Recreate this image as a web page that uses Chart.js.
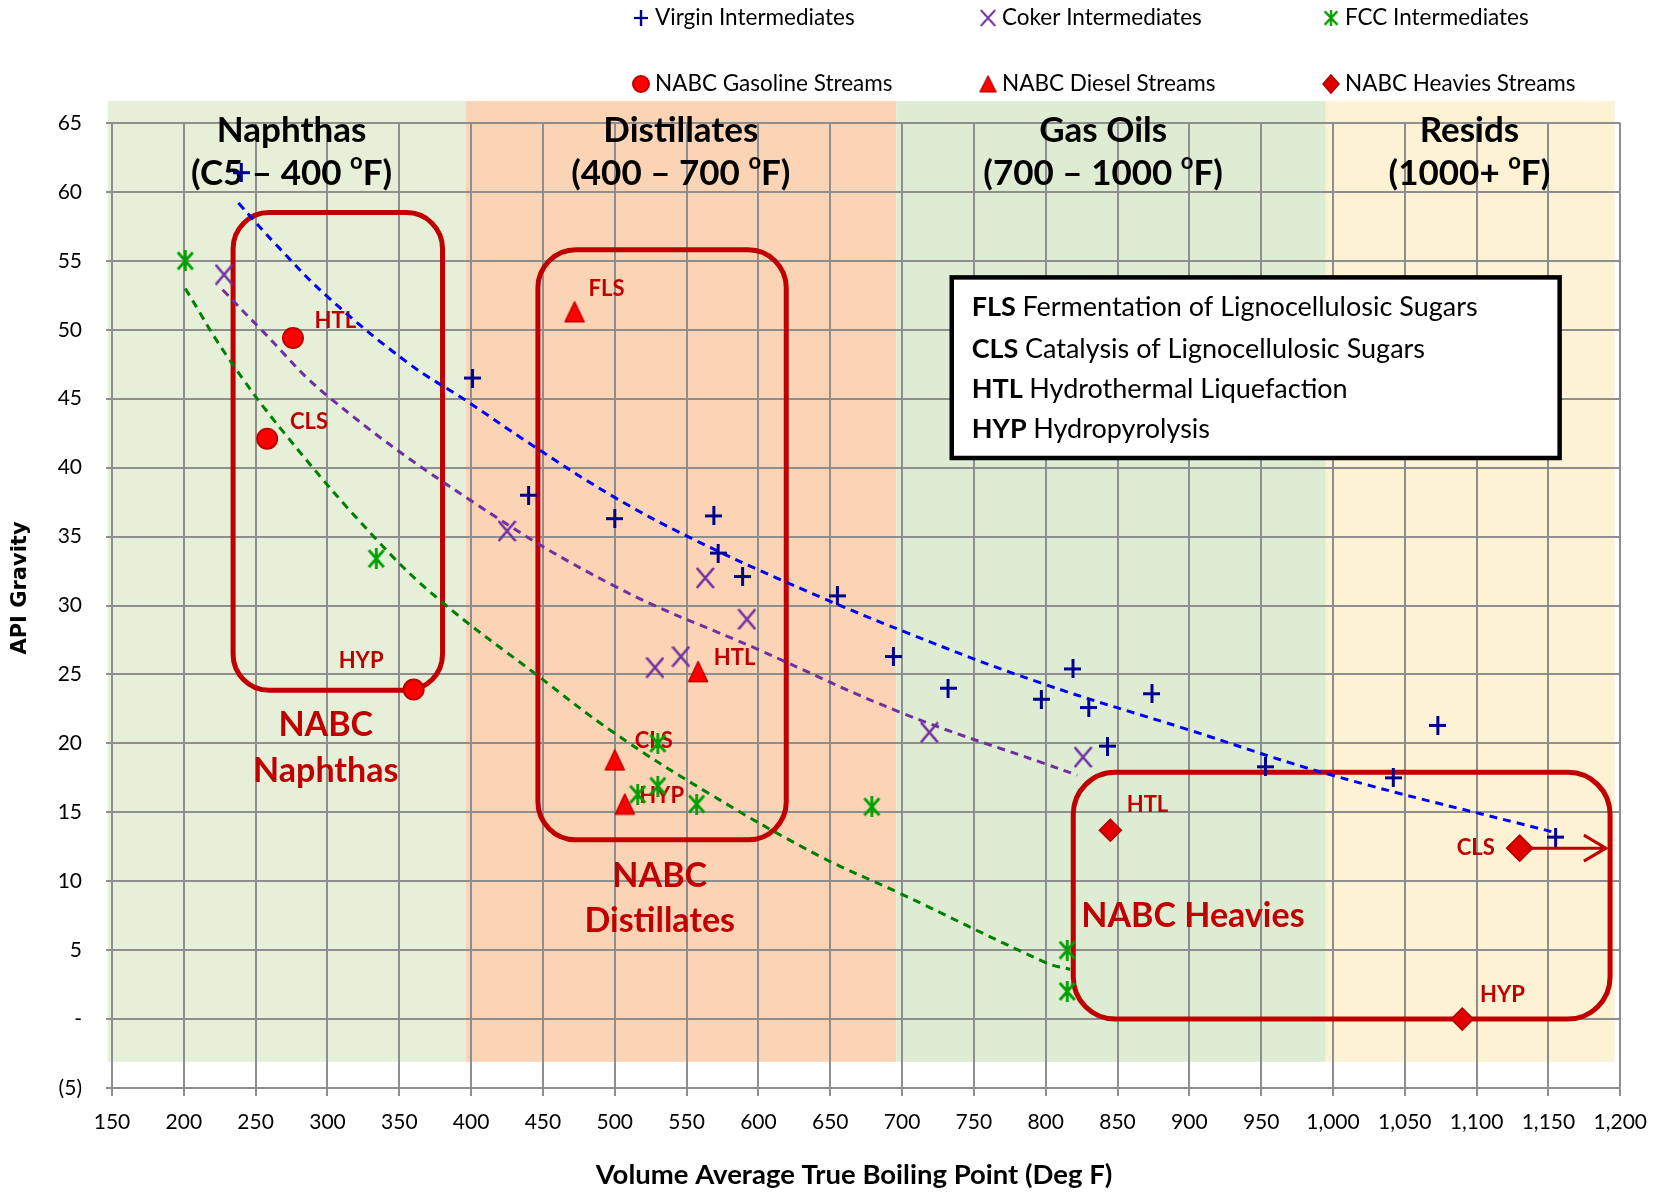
<!DOCTYPE html>
<html><head><meta charset="utf-8">
<script src="https://cdn.jsdelivr.net/npm/chart.js@4/dist/chart.umd.min.js"></script>
<style>html,body{margin:0;padding:0;background:#fff;}#wrap{width:1661px;height:1196px;}</style>
</head><body><div id="wrap"><canvas id="c" width="1661" height="1196"></canvas></div>
<script>
// ---------------- DATA ----------------
const virginTBP = [240, 401, 440, 500, 569, 572, 589, 655, 694, 732, 797, 819, 830, 874, 843, 953, 1042, 1073, 1155];
const virginAPI = [61.4, 46.5, 38.0, 36.3, 36.5, 33.8, 32.1, 30.7, 26.3, 24.0, 23.2, 25.4, 22.6, 23.6, 19.8, 18.3, 17.5, 21.3, 13.2];
const cokerTBP = [228, 425, 563, 592, 528, 546, 719, 826];
const cokerAPI = [54.0, 35.4, 32.0, 29.0, 25.5, 26.3, 20.8, 19.0];
const fccTBP = [201, 334, 530, 530, 516, 557, 679, 815, 815];
const fccAPI = [55.0, 33.4, 20.0, 16.9, 16.3, 15.6, 15.4, 5.0, 2.0];
const gasolineTBP = [276, 258, 360];
const gasolineAPI = [49.4, 42.1, 23.9];
const gasolineTags = ['HTL', 'CLS', 'HYP'];
const dieselTBP = [472, 558, 500, 507];
const dieselAPI = [51.3, 25.2, 18.8, 15.6];
const dieselTags = ['FLS', 'HTL', 'CLS', 'HYP'];
const heaviesTBP = [845, 1130, 1090];
const heaviesAPI = [13.7, 12.4, 0];
const heaviesTags = ['HTL', 'CLS', 'HYP'];
// trendlines
const virginTrendX = [238, 264, 300, 356, 396, 440, 499, 551, 617, 704, 796, 899, 999, 1152];
const virginTrendY = [59.2, 56.2, 52.4, 47.6, 44.9, 41.8, 37.9, 35.0, 31.8, 28.0, 24.4, 21.0, 17.7, 13.6];
const cokerTrendX = [227, 253, 300, 400, 500, 600, 700, 800, 822];
const cokerTrendY = [52.9, 50.1, 45.2, 37.6, 31.4, 26.8, 22.2, 18.5, 17.7];
const fccTrendX = [201, 230, 270, 334, 378, 444, 499, 565, 643, 697, 800, 817];
const fccTrendY = [53.0, 48.1, 42.5, 34.8, 30.4, 25.1, 20.8, 16.4, 11.8, 9.2, 4.1, 3.6];
// categories
const seriesNames = ['Virgin Intermediates', 'Coker Intermediates', 'FCC Intermediates',
  'NABC Gasoline Streams', 'NABC Diesel Streams', 'NABC Heavies Streams'];
const regionNames = ['Naphthas', 'Distillates', 'Gas Oils', 'Resids'];
const regionRanges = ['(C5 – 400 ', '(400 – 700 ', '(700 – 1000 ', '(1000+ '];
const regionFrom = [147, 396.5, 696, 995];
const regionTo = [396.5, 696, 995, 1196];
const regionTitleX = [275, 546, 840, 1095];
const abbrevs = ['FLS', 'CLS', 'HTL', 'HYP'];
const abbrevText = ['Fermentation of Lignocellulosic Sugars', 'Catalysis of Lignocellulosic Sugars',
  'Hydrothermal Liquefaction', 'Hydropyrolysis'];
const xTitle = 'Volume Average True Boiling Point (Deg F)';
const yTitle = 'API Gravity';

// ---------------- STYLE ----------------
const FONT = 'Lato, "Open Sans", sans-serif';
const RED = '#C00000';
const bandColors = ['#E6F0D9', '#FBD4B6', '#DEECD3', '#FEF2D5'];
const zip = (xs, ys) => xs.map((x, i) => ({x: x, y: ys[i]}));

function makeImg(w, h, draw) {
  const c = document.createElement('canvas'); c.width = w; c.height = h;
  draw(c.getContext('2d'), w, h); return c;
}
const plusImg = makeImg(17, 19, (g, w, h) => {
  g.strokeStyle = '#00008E'; g.lineWidth = 3; g.beginPath();
  g.moveTo(0, h / 2); g.lineTo(w, h / 2); g.moveTo(w / 2, 0); g.lineTo(w / 2, h); g.stroke();
});
const xImg = makeImg(19, 22, (g, w, h) => {
  g.strokeStyle = '#7030A0'; g.lineWidth = 2.6; g.beginPath();
  g.moveTo(1, 1); g.lineTo(w - 1, h - 1); g.moveTo(w - 1, 1); g.lineTo(1, h - 1); g.stroke();
});
const starImg = makeImg(19, 21, (g, w, h) => {
  g.strokeStyle = '#00A000'; g.lineWidth = 2.8; g.beginPath();
  g.moveTo(2, 2); g.lineTo(w - 2, h - 2); g.moveTo(w - 2, 2); g.lineTo(2, h - 2);
  g.moveTo(w / 2, 0); g.lineTo(w / 2, h); g.stroke();
});
const triImg = makeImg(22, 23, (g, w, h) => {
  g.fillStyle = '#FF0000'; g.strokeStyle = RED; g.lineWidth = 1.6; g.lineJoin = 'round';
  g.beginPath(); g.moveTo(w / 2, 1.5); g.lineTo(w - 1.5, h - 1.5); g.lineTo(1.5, h - 1.5); g.closePath();
  g.fill(); g.stroke();
});

// ---------------- PLUGIN: bands, titles, boxes, labels, legend ----------------
function richText(ctx, cx, cy, size, pre, post) {
  const big = 'bold ' + size + 'px ' + FONT, small = 'bold ' + Math.round(size * 0.62) + 'px ' + FONT;
  ctx.font = big; const w1 = ctx.measureText(pre).width, w3 = ctx.measureText(post).width;
  ctx.font = small; const w2 = ctx.measureText('o').width;
  let x = cx - (w1 + w2 + w3) / 2;
  ctx.textAlign = 'left'; ctx.textBaseline = 'middle';
  ctx.font = big; ctx.fillText(pre, x, cy); x += w1;
  ctx.font = small; ctx.fillText('o', x, cy - size * 0.32); x += w2;
  ctx.font = big; ctx.fillText(post, x, cy);
}
function roundBox(ctx, l, t, r, b, rad) {
  ctx.beginPath();
  ctx.moveTo(l + rad, t); ctx.lineTo(r - rad, t); ctx.arcTo(r, t, r, t + rad, rad);
  ctx.lineTo(r, b - rad); ctx.arcTo(r, b, r - rad, b, rad);
  ctx.lineTo(l + rad, b); ctx.arcTo(l, b, l, b - rad, rad);
  ctx.lineTo(l, t + rad); ctx.arcTo(l, t, l + rad, t, rad); ctx.closePath();
}
const deco = {
  id: 'deco',
  beforeDraw(chart) {
    const ctx = chart.ctx, sx = chart.scales.x, sy = chart.scales.y;
    ctx.save();
    const top = sy.getPixelForValue(66.6), bot = sy.getPixelForValue(-3.1);
    regionFrom.forEach((f, i) => {
      const l = sx.getPixelForValue(f), r = sx.getPixelForValue(regionTo[i]);
      ctx.fillStyle = bandColors[i]; ctx.fillRect(l, top, r - l, bot - top);
    });
    ctx.restore();
  },
  beforeDatasetsDraw(chart) {
    const ctx = chart.ctx, sx = chart.scales.x, sy = chart.scales.y;
    const X = v => sx.getPixelForValue(v), Y = v => sy.getPixelForValue(v);
    ctx.save();
    // region titles
    ctx.fillStyle = '#000';
    regionNames.forEach((n, i) => {
      ctx.font = 'bold 35px ' + FONT; ctx.textAlign = 'center'; ctx.textBaseline = 'middle';
      ctx.fillText(n, X(regionTitleX[i]), Y(64.45));
      richText(ctx, X(regionTitleX[i]), Y(61.35), 35, regionRanges[i], 'F)');
    });
    // abbreviation box
    const bl = X(734.6), br = X(1157.8), bt = Y(53.8), bb = Y(40.7);
    ctx.fillStyle = '#fff'; ctx.fillRect(bl, bt, br - bl, bb - bt);
    ctx.lineWidth = 4.5; ctx.strokeStyle = '#000'; ctx.strokeRect(bl, bt, br - bl, bb - bt);
    const lineY = [51.6, 48.6, 45.65, 42.75];
    abbrevs.forEach((a, i) => {
      ctx.textAlign = 'left'; ctx.textBaseline = 'middle'; ctx.fillStyle = '#000';
      ctx.font = 'bold 27px ' + FONT; ctx.fillText(a, X(748.5), Y(lineY[i]));
      const w = ctx.measureText(a + ' ').width;
      ctx.font = '27px ' + FONT; ctx.fillText(abbrevText[i], X(748.5) + w, Y(lineY[i]));
    });
    // NABC boxes
    ctx.strokeStyle = RED; ctx.lineWidth = 5;
    roundBox(ctx, X(234.3), Y(58.5), X(380.1), Y(23.85), 36); ctx.stroke();
    roundBox(ctx, X(446.5), Y(55.8), X(619.4), Y(13.0), 38); ctx.stroke();
    roundBox(ctx, X(819.2), Y(17.9), X(1192.9), Y(0), 42); ctx.stroke();
    // big labels
    ctx.fillStyle = RED; ctx.font = 'bold 34px ' + FONT; ctx.textAlign = 'center'; ctx.textBaseline = 'middle';
    ctx.fillText('NABC', X(298.8), Y(21.3)); ctx.fillText('Naphthas', X(298.8), Y(18.0));
    ctx.fillText('NABC', X(531.3), Y(10.4)); ctx.fillText('Distillates', X(531.3), Y(7.1));
    ctx.fillText('NABC Heavies', X(902.5), Y(7.5));
    // small tag labels
    ctx.font = 'bold 22px ' + FONT; ctx.textAlign = 'left';
    const tagPos = [
      [gasolineTags, [[291, 50.66], [273.9, 43.3], [307.8, 25.96]]],
      [dieselTags, [[481.8, 53.0], [569.0, 26.2], [513.9, 20.16], [517.0, 16.2]]],
      [heaviesTags, [[856.4, 15.57], [1086.2, 12.39], [1102.4, 1.77]]]
    ];
    tagPos.forEach(([tags, pos]) => tags.forEach((t, i) => ctx.fillText(t, X(pos[i][0]), Y(pos[i][1]))));
    ctx.restore();
  },
  afterDraw(chart) {
    const ctx = chart.ctx, sx = chart.scales.x, sy = chart.scales.y;
    const X = v => sx.getPixelForValue(v), Y = v => sy.getPixelForValue(v);
    ctx.save();
    // arrow from CLS heavies
    const ay = Y(heaviesAPI[1]), ax0 = X(heaviesTBP[1]) + 10, ax1 = X(1190);
    ctx.strokeStyle = RED; ctx.lineWidth = 3; ctx.beginPath();
    ctx.moveTo(ax0, ay); ctx.lineTo(ax1, ay);
    ctx.moveTo(ax1 - 22, ay - 13); ctx.lineTo(ax1, ay); ctx.lineTo(ax1 - 22, ay + 13); ctx.stroke();
    // legend
    const cols = [641, 988, 1331], rows = [18, 84];
    const icons = [plusImg, xImg, starImg, 'circle', triImg, 'diamond'];
    seriesNames.forEach((n, i) => {
      const cx = cols[i % 3], cy = rows[Math.floor(i / 3)];
      const ic = icons[i];
      if (ic === 'circle') {
        ctx.fillStyle = '#FF0000'; ctx.strokeStyle = RED; ctx.lineWidth = 2;
        ctx.beginPath(); ctx.arc(cx, cy, 8, 0, Math.PI * 2); ctx.fill(); ctx.stroke();
      } else if (ic === 'diamond') {
        ctx.fillStyle = '#E00000'; ctx.strokeStyle = '#B00000'; ctx.lineWidth = 1.5;
        ctx.beginPath(); ctx.moveTo(cx, cy - 9); ctx.lineTo(cx + 8, cy); ctx.lineTo(cx, cy + 9); ctx.lineTo(cx - 8, cy); ctx.closePath();
        ctx.fill(); ctx.stroke();
      } else {
        const w = ic.width * 0.85, h = ic.height * 0.8;
        ctx.drawImage(ic, cx - w / 2, cy - h / 2, w, h);
      }
      ctx.fillStyle = '#000'; ctx.font = '22.5px ' + FONT; ctx.textAlign = 'left'; ctx.textBaseline = 'middle';
      ctx.fillText(n, cx + 14, cy);
    });
    // axis titles
    ctx.font = 'bold 27.5px ' + FONT; ctx.textAlign = 'center'; ctx.textBaseline = 'middle';
    ctx.fillText(xTitle, 854, 1175);
    ctx.save(); ctx.translate(21, 588); ctx.rotate(-Math.PI / 2);
    ctx.font = 'bold 21px "DejaVu Sans", sans-serif'; ctx.fillText(yTitle, 0, 0); ctx.restore();
    ctx.restore();
  }
};

// ---------------- CHART ----------------
const gridColor = '#8E8E8E';
new Chart(document.getElementById('c'), {
  type: 'scatter',
  data: {
    datasets: [
      {label: seriesNames[0], data: zip(virginTBP, virginAPI), pointStyle: plusImg, order: 1},
      {label: seriesNames[1], data: zip(cokerTBP, cokerAPI), pointStyle: xImg, order: 1},
      {label: seriesNames[2], data: zip(fccTBP, fccAPI), pointStyle: starImg, order: 1},
      {label: seriesNames[3], data: zip(gasolineTBP, gasolineAPI), pointStyle: 'circle', pointRadius: 10,
        backgroundColor: '#FF0000', borderColor: RED, borderWidth: 2, order: 0},
      {label: seriesNames[4], data: zip(dieselTBP, dieselAPI), pointStyle: triImg, order: 0},
      {label: seriesNames[5], data: zip(heaviesTBP, heaviesAPI), pointStyle: 'rectRot', pointRadius: [11, 13, 11],
        backgroundColor: '#E00000', borderColor: '#B00000', borderWidth: 1.5, order: 0},
      {label: 'Virgin trend', data: zip(virginTrendX, virginTrendY), showLine: true, pointRadius: 0,
        borderColor: '#0000FF', borderWidth: 3, borderDash: [8, 6], tension: 0.4, order: 5},
      {label: 'Coker trend', data: zip(cokerTrendX, cokerTrendY), showLine: true, pointRadius: 0,
        borderColor: '#7030A0', borderWidth: 3, borderDash: [8, 6], tension: 0.4, order: 5},
      {label: 'FCC trend', data: zip(fccTrendX, fccTrendY), showLine: true, pointRadius: 0,
        borderColor: '#008000', borderWidth: 3, borderDash: [8, 6], tension: 0.4, order: 5}
    ]
  },
  options: {
    responsive: false, animation: false, devicePixelRatio: 1,
    layout: {padding: {top: 123, right: 39, left: 0, bottom: 0}},
    plugins: {legend: {display: false}, tooltip: {enabled: false}},
    scales: {
      x: {
        type: 'linear', min: 150, max: 1200,
        afterFit: s => { s.height = 108; },
        ticks: {stepSize: 50, color: '#000', padding: 14, maxRotation: 0, autoSkip: false,
          font: {family: FONT, size: 21},
          callback: v => v.toLocaleString('en-US')},
        grid: {color: gridColor, lineWidth: 2, tickLength: 8},
        border: {color: gridColor, width: 2}
      },
      y: {
        min: -5, max: 65,
        afterFit: s => { s.width = 112; },
        ticks: {stepSize: 5, color: '#000', padding: 24, font: {family: FONT, size: 21},
          callback: v => v === 0 ? '-' : (v < 0 ? '(' + (-v) + ')' : String(v))},
        grid: {color: gridColor, lineWidth: 2, tickLength: 6},
        border: {color: gridColor, width: 2}
      }
    }
  },
  plugins: [deco]
});
</script></body></html>
